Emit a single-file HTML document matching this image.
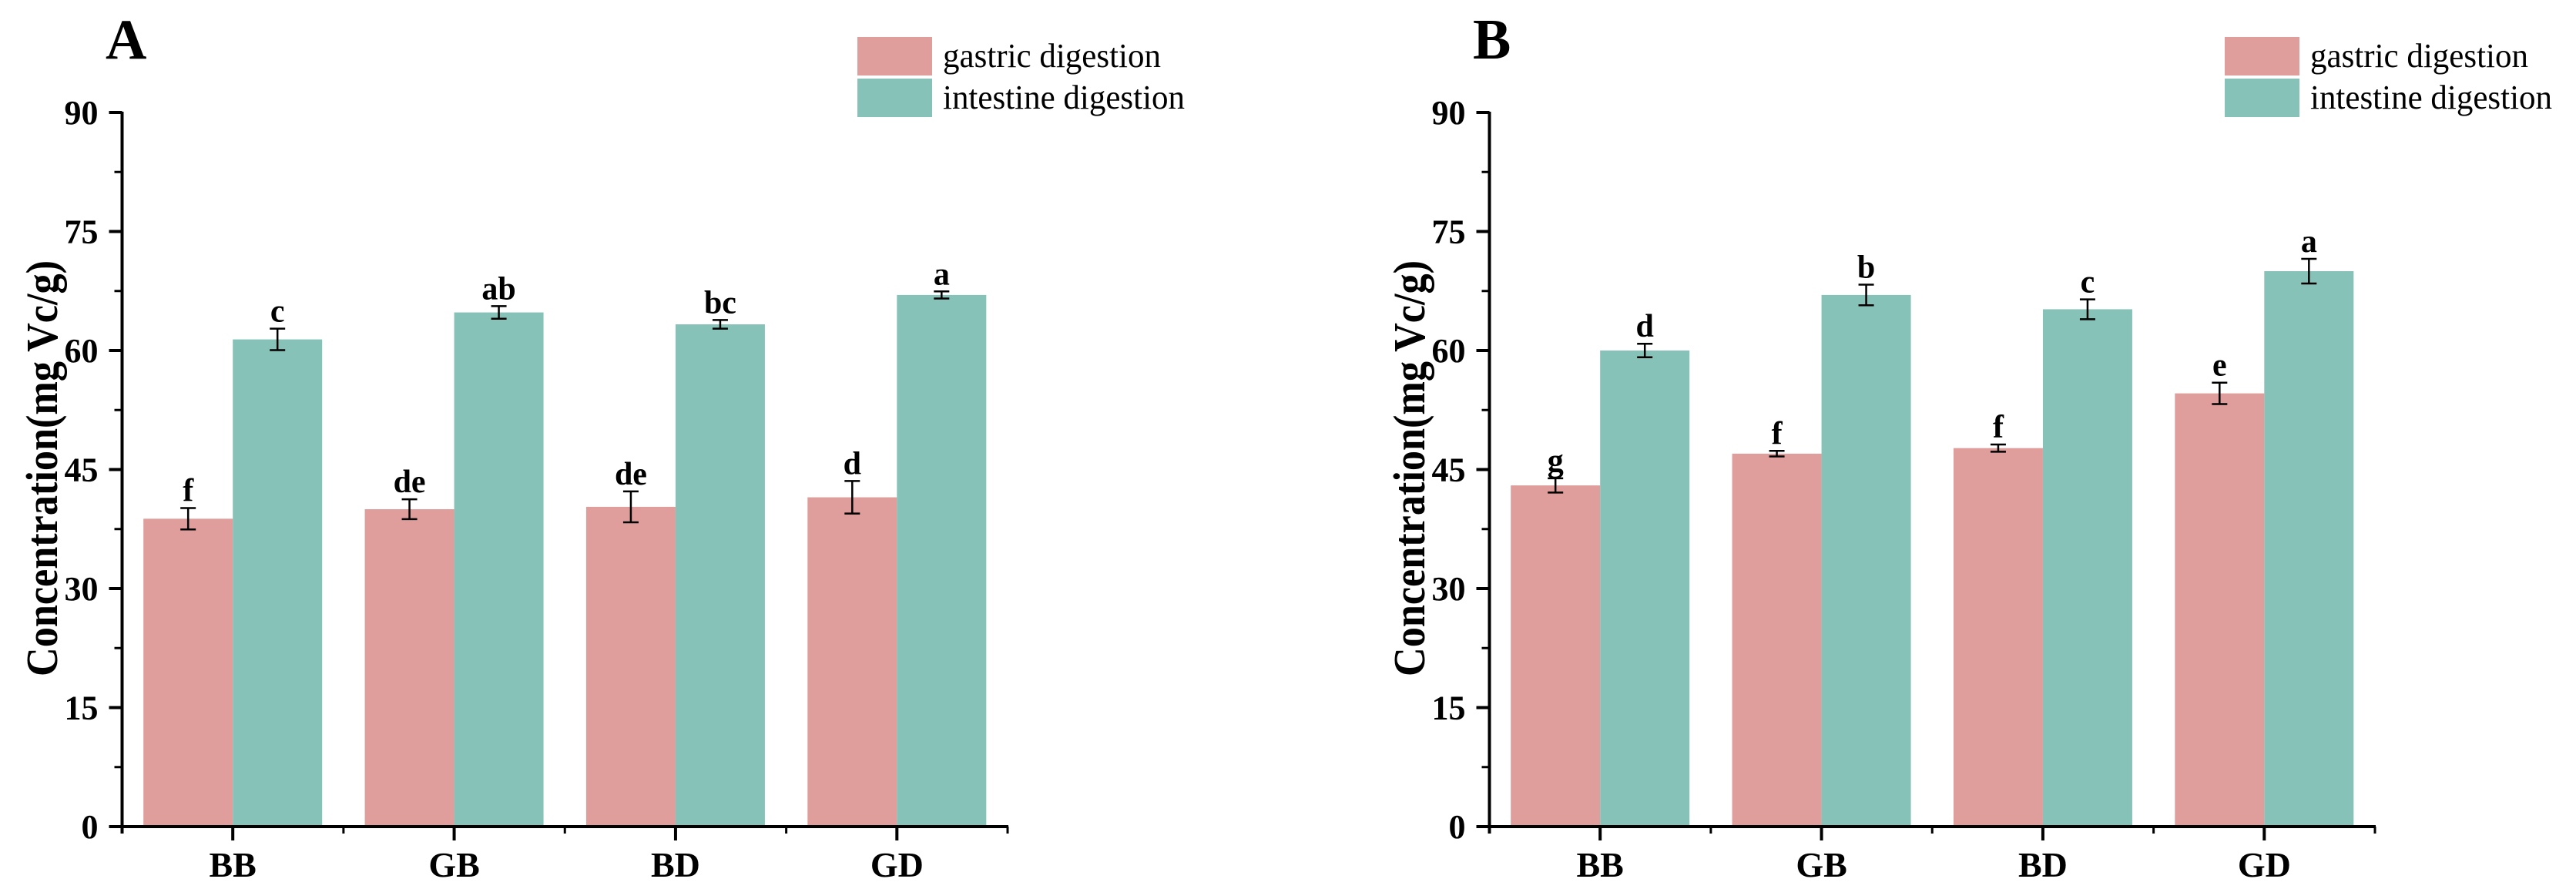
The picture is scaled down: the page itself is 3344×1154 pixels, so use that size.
<!DOCTYPE html>
<html><head><meta charset="utf-8"><style>
html,body{margin:0;padding:0;background:#fff;}
svg{display:block;}
text{font-family:"Liberation Serif","Times New Roman",serif;}
</style></head><body>
<svg id="chart" width="3344" height="1154" viewBox="0 0 3344 1154" xmlns="http://www.w3.org/2000/svg"></svg>
<script>
const categories = ["BB","GB","BD","GD"];
const seriesNames = ["gastric digestion","intestine digestion"];
const yTicks = [0,15,30,45,60,75,90];
// Panel A
const aGastric = [38.8,40.0,40.3,41.5];
const aGastricErr = [1.35,1.25,1.95,2.05];
const aGastricSig = ["f","de","de","d"];
const aIntestine = [61.4,64.8,63.3,67.0];
const aIntestineErr = [1.35,0.8,0.55,0.45];
const aIntestineSig = ["c","ab","bc","a"];
// Panel B
const bGastric = [43.0,47.0,47.7,54.6];
const bGastricErr = [0.9,0.35,0.45,1.35];
const bGastricSig = ["g","f","f","e"];
const bIntestine = [60.0,67.0,65.2,70.0];
const bIntestineErr = [0.85,1.3,1.25,1.55];
const bIntestineSig = ["d","b","c","a"];

const NS = "http://www.w3.org/2000/svg";
const svg = document.getElementById('chart');
const colors = ["#DF9D9B","#86C2B7"];
function mk(tag, attrs, parent){
  const e = document.createElementNS(NS, tag);
  for (const k in attrs) e.setAttribute(k, attrs[k]);
  (parent||svg).appendChild(e);
  return e;
}
function drawPanel(ox, letter, gv, ge, gs, iv, ie, is, pname){
  const g = mk('g', {});
  
  
  const x0 = ox + 158.5, x1 = ox + 1308, y0 = 1073, yTop = 146;
  const yMax = 90;
  const yS = v => y0 - (v / yMax) * (y0 - yTop);
  const band = (x1 - x0) / categories.length;
  const xC = i => x0 + band * (i + 0.5);
  const bw = 116;
  const pl = mk('text', {x: ox+137, y: 76, 'font-size': 74, 'font-weight': 'bold', fill: '#000'}, g);
  pl.textContent = letter;
  
  
  const sets = [[gv, ge, gs, 0], [iv, ie, is, 1]];
  sets.forEach(([vals, errs, sigs, s]) => {
    vals.forEach((v, i) => {
      const bx = s === 0 ? xC(i) - bw : xC(i);
      const r = mk('rect', {x: bx, y: yS(v), width: bw, height: y0 - yS(v), fill: colors[s]}, g);
      
      
      const cx = bx + bw/2;
      const t = yS(v + errs[i]), b = yS(v - errs[i]);
      const eb = mk('path', {d: `M${cx-10},${t}H${cx+10}M${cx},${t}V${b}M${cx-10},${b}H${cx+10}`, stroke: '#000', 'stroke-width': 2.5, fill: 'none'}, g);
      
      
      const st = mk('text', {x: cx, y: t - 9, 'font-size': 42, 'font-weight': 'bold', 'text-anchor': 'middle', fill: '#000'}, g);
      st.textContent = sigs[i];
      
      
    });
  });
  const ya = mk('line', {x1: x0, y1: yTop - 1, x2: x0, y2: y0 + 9, stroke: '#000', 'stroke-width': 4}, g);
  
  
  yTicks.forEach(v => {
    const tk = mk('line', {x1: x0 - 17, y1: yS(v), x2: x0, y2: yS(v), stroke: '#000', 'stroke-width': 4}, g);
    
    
    const tl = mk('text', {x: x0 - 31, y: yS(v) + 15, 'font-size': 44, 'font-weight': 'bold', 'text-anchor': 'end', fill: '#000'}, g);
    tl.textContent = v;
    
    
  });
  for (let k = 0; k < yTicks.length - 1; k++) {
    const mv = (yTicks[k] + yTicks[k+1]) / 2;
    const mt = mk('line', {x1: x0 - 10, y1: yS(mv), x2: x0, y2: yS(mv), stroke: '#000', 'stroke-width': 3}, g);
    
    
  }
  const xa = mk('line', {x1: x0 - 17, y1: y0, x2: x1 + 1, y2: y0, stroke: '#000', 'stroke-width': 4}, g);
  
  
  for (let k = 0; k <= categories.length; k++) {
    const sx = x0 + band * k;
    const sep = mk('line', {x1: sx, y1: y0, x2: sx, y2: y0 + 9, stroke: '#000', 'stroke-width': 3}, g);
    
    
  }
  categories.forEach((c, i) => {
    const tk = mk('line', {x1: xC(i), y1: y0, x2: xC(i), y2: y0 + 18, stroke: '#000', 'stroke-width': 4}, g);
    
    
    const tl = mk('text', {x: xC(i), y: 1138, 'font-size': 46, 'font-weight': 'bold', 'text-anchor': 'middle', fill: '#000'}, g);
    tl.textContent = c;
    
    
  });
  const yt = mk('text', {x: 0, y: 0, 'font-size': 58, 'font-weight': 'bold', 'text-anchor': 'middle', fill: '#000', textLength: 540, lengthAdjust: 'spacingAndGlyphs', transform: `translate(${ox+74},608) rotate(-90)`}, g);
  yt.textContent = "Concentration(mg Vc/g)";
  
  
  seriesNames.forEach((n, s) => {
    const ly = 48 + s * 54;
    const lg = mk('g', {}, g);
    
    
    mk('rect', {x: ox + 1113, y: ly, width: 97, height: 50, fill: colors[s]}, lg);
    const lt = mk('text', {x: ox + 1224, y: ly + 39, 'font-size': 44, fill: '#000', textLength: s===0?283:314, lengthAdjust: 'spacingAndGlyphs'}, lg);
    lt.textContent = n;
  });
}
drawPanel(0, "A", aGastric, aGastricErr, aGastricSig, aIntestine, aIntestineErr, aIntestineSig, 'panel-a');
drawPanel(1775, "B", bGastric, bGastricErr, bGastricSig, bIntestine, bIntestineErr, bIntestineSig, 'panel-b');
</script>
</body></html>
